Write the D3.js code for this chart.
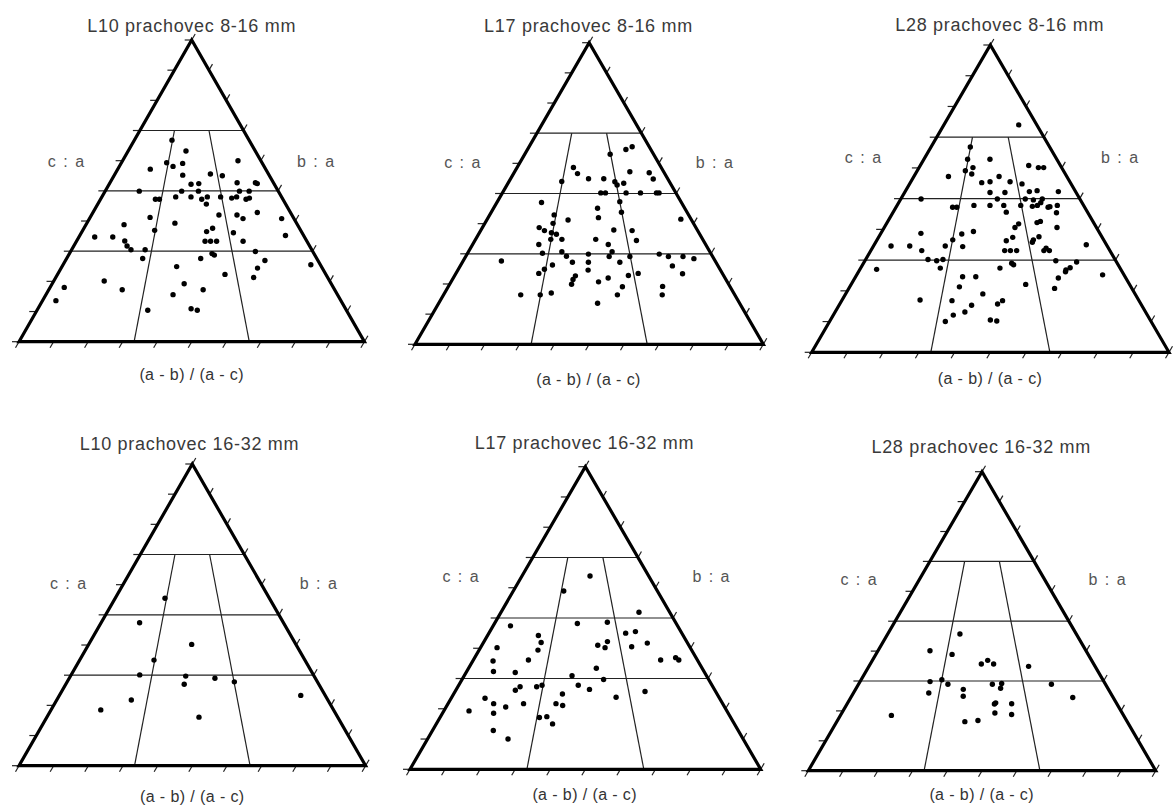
<!DOCTYPE html>
<html>
<head>
<meta charset="utf-8">
<script src="https://cdn.jsdelivr.net/npm/d3@7"></script>
<style>
  body { margin: 0; background: #fff; }
  svg text { font-family: "Liberation Sans", Arial, sans-serif; font-weight: 400; }
</style>
</head>
<body>
<svg id="chart" width="1174" height="810"></svg>
<script>
// Sneed & Folk form diagrams. each point is [(a-b)/(a-c), c/a]
const L10_8_16 = [[0.328,0.668],[0.455,0.632],[0.835,0.600],[0.322,0.593],[0.371,0.581],[0.436,0.591],[0.220,0.572],[0.442,0.552],[0.622,0.556],[0.697,0.550],[0.778,0.527],[0.890,0.527],[0.899,0.524],[0.496,0.522],[0.543,0.524],[0.197,0.499],[0.442,0.499],[0.539,0.499],[0.776,0.499],[0.832,0.499],[0.301,0.472],[0.323,0.472],[0.411,0.480],[0.496,0.480],[0.555,0.472],[0.587,0.480],[0.578,0.456],[0.661,0.480],[0.721,0.476],[0.750,0.480],[0.798,0.472],[0.819,0.476],[0.636,0.420],[0.726,0.420],[0.751,0.408],[0.832,0.428],[0.940,0.408],[0.295,0.412],[0.180,0.388],[0.420,0.393],[0.597,0.376],[0.568,0.365],[0.330,0.369],[0.689,0.361],[0.919,0.352],[0.070,0.347],[0.150,0.347],[0.209,0.334],[0.226,0.317],[0.247,0.305],[0.558,0.333],[0.582,0.333],[0.608,0.333],[0.723,0.333],[0.306,0.305],[0.763,0.299],[0.583,0.292],[0.592,0.287],[0.304,0.276],[0.536,0.276],[0.790,0.269],[0.963,0.255],[0.442,0.249],[0.752,0.244],[0.624,0.223],[0.728,0.213],[0.183,0.201],[0.050,0.180],[0.473,0.192],[0.257,0.172],[0.540,0.172],[0.436,0.156],[0.045,0.136],[0.358,0.104],[0.498,0.109],[0.518,0.104]];

const L17_8_16 = [[0.858,0.655],[0.798,0.646],[0.663,0.630],[0.391,0.586],[0.423,0.566],[0.496,0.549],[0.593,0.549],[0.773,0.572],[0.900,0.569],[0.907,0.548],[0.329,0.540],[0.660,0.539],[0.670,0.528],[0.713,0.534],[0.567,0.502],[0.594,0.502],[0.713,0.502],[0.796,0.502],[0.888,0.502],[0.903,0.502],[0.242,0.470],[0.667,0.473],[0.544,0.451],[0.665,0.438],[0.324,0.429],[0.546,0.420],[0.397,0.412],[0.327,0.401],[0.950,0.415],[0.266,0.387],[0.294,0.377],[0.328,0.370],[0.352,0.365],[0.614,0.379],[0.698,0.377],[0.331,0.348],[0.380,0.348],[0.529,0.348],[0.707,0.344],[0.284,0.331],[0.582,0.331],[0.308,0.302],[0.387,0.307],[0.408,0.292],[0.497,0.299],[0.595,0.307],[0.581,0.291],[0.665,0.291],[0.787,0.299],[0.821,0.291],[0.880,0.291],[0.920,0.284],[0.152,0.276],[0.434,0.272],[0.497,0.272],[0.621,0.272],[0.357,0.263],[0.329,0.249],[0.496,0.246],[0.823,0.260],[0.311,0.235],[0.646,0.228],[0.684,0.235],[0.850,0.234],[0.449,0.227],[0.441,0.215],[0.437,0.199],[0.570,0.220],[0.534,0.207],[0.761,0.192],[0.618,0.191],[0.265,0.164],[0.332,0.164],[0.369,0.170],[0.597,0.164],[0.751,0.164],[0.528,0.136]];

const L28_8_16 = [[0.805,0.740],[0.331,0.668],[0.329,0.628],[0.497,0.628],[0.329,0.591],[0.378,0.601],[0.376,0.580],[0.774,0.608],[0.837,0.601],[0.874,0.601],[0.226,0.572],[0.557,0.572],[0.446,0.552],[0.498,0.555],[0.624,0.555],[0.696,0.548],[0.498,0.520],[0.585,0.520],[0.729,0.523],[0.776,0.526],[0.899,0.523],[0.113,0.499],[0.539,0.499],[0.695,0.499],[0.739,0.496],[0.790,0.499],[0.775,0.487],[0.300,0.472],[0.322,0.472],[0.412,0.478],[0.498,0.478],[0.572,0.478],[0.663,0.478],[0.724,0.475],[0.752,0.478],[0.806,0.472],[0.817,0.474],[0.859,0.478],[0.582,0.456],[0.839,0.454],[0.744,0.426],[0.726,0.422],[0.636,0.418],[0.616,0.406],[0.814,0.406],[0.183,0.387],[0.422,0.393],[0.370,0.385],[0.600,0.374],[0.718,0.376],[0.334,0.366],[0.570,0.363],[0.690,0.366],[0.683,0.358],[0.075,0.346],[0.155,0.346],[0.307,0.346],[0.382,0.344],[0.913,0.350],[0.213,0.331],[0.560,0.331],[0.584,0.331],[0.610,0.331],[0.736,0.339],[0.724,0.331],[0.747,0.331],[0.250,0.302],[0.286,0.298],[0.310,0.302],[0.761,0.298],[0.842,0.294],[0.584,0.290],[0.591,0.285],[0.064,0.270],[0.307,0.274],[0.537,0.274],[0.808,0.275],[0.789,0.268],[0.785,0.262],[0.397,0.246],[0.446,0.246],[0.751,0.242],[0.920,0.252],[0.627,0.221],[0.390,0.213],[0.727,0.208],[0.474,0.190],[0.263,0.170],[0.371,0.168],[0.541,0.168],[0.524,0.157],[0.438,0.153],[0.418,0.131],[0.382,0.121],[0.500,0.105],[0.520,0.102],[0.360,0.100]];

const L10_16_32 = [[0.323,0.555],[0.211,0.474],[0.497,0.402],[0.330,0.350],[0.283,0.301],[0.473,0.297],[0.592,0.290],[0.668,0.278],[0.468,0.270],[0.275,0.218],[0.908,0.233],[0.176,0.185],[0.523,0.161]];

const L17_16_32 = [[0.537,0.639],[0.350,0.589],[0.818,0.519],[0.094,0.474],[0.456,0.482],[0.622,0.486],[0.260,0.442],[0.283,0.419],[0.709,0.450],[0.762,0.455],[0.079,0.402],[0.277,0.394],[0.560,0.410],[0.594,0.402],[0.609,0.422],[0.722,0.405],[0.803,0.417],[0.090,0.358],[0.246,0.361],[0.836,0.361],[0.908,0.369],[0.917,0.361],[0.113,0.323],[0.206,0.320],[0.547,0.334],[0.445,0.309],[0.574,0.297],[0.244,0.273],[0.230,0.261],[0.309,0.273],[0.329,0.278],[0.472,0.278],[0.516,0.264],[0.413,0.249],[0.729,0.257],[0.615,0.238],[0.126,0.235],[0.166,0.217],[0.214,0.206],[0.275,0.217],[0.393,0.217],[0.418,0.211],[0.089,0.193],[0.179,0.185],[0.342,0.171],[0.367,0.174],[0.390,0.150],[0.199,0.128],[0.255,0.100]];

const L28_16_32 = [[0.383,0.457],[0.250,0.401],[0.359,0.389],[0.526,0.369],[0.497,0.357],[0.552,0.357],[0.706,0.349],[0.287,0.298],[0.334,0.304],[0.362,0.289],[0.542,0.289],[0.580,0.292],[0.574,0.276],[0.781,0.289],[0.293,0.260],[0.426,0.272],[0.428,0.249],[0.846,0.245],[0.551,0.227],[0.546,0.223],[0.610,0.224],[0.546,0.193],[0.605,0.188],[0.180,0.185],[0.441,0.164],[0.486,0.168]];

const titles = ["L10 prachovec 8-16 mm", "L17 prachovec 8-16 mm", "L28 prachovec 8-16 mm",
                "L10 prachovec 16-32 mm", "L17 prachovec 16-32 mm", "L28 prachovec 16-32 mm"];
const series = [L10_8_16, L17_8_16, L28_8_16, L10_16_32, L17_16_32, L28_16_32];

const caLines = [0.3, 0.5, 0.7];        // c/a class boundaries
const abLines = [1/3, 2/3];             // (a-b)/(a-c) class boundaries
const tickVals = d3.range(0, 1.0001, 0.1);

// where each triangle sits on the page
const boxes = [
  {left: 19,    right: 364.4,  base: 341.7, apex: 40,    tx: 191.7, ty: 32,    caX: 66.7,  baX: 316.3,  lblY: 166.7, axX: 191.7, axY: 380},
  {left: 415,   right: 763.3,  base: 344.3, apex: 42.7,  tx: 588.5, ty: 32,    caX: 463,   baX: 715,    lblY: 168.3, axX: 588.5, axY: 385},
  {left: 811.7, right: 1169,   base: 352.3, apex: 45,    tx: 999.7, ty: 30.7,  caX: 863.7, baX: 1120.3, lblY: 163.3, axX: 990,   axY: 383.5},
  {left: 19,    right: 365.6,  base: 765.7, apex: 464,   tx: 189.5, ty: 450,   caX: 68.8,  baX: 319,    lblY: 589,   axX: 192.3, axY: 802},
  {left: 410,   right: 760.7,  base: 769.3, apex: 466.7, tx: 584.5, ty: 449.3, caX: 461.3, baX: 711.7,  lblY: 582.3, axX: 584.7, axY: 800},
  {left: 808.3, right: 1155.7, base: 770.7, apex: 471.7, tx: 981.2, ty: 453.3, caX: 859.3, baX: 1107.8, lblY: 585,   axX: 981.7, axY: 800}
];

const svg = d3.select("#chart");

boxes.forEach((b, i) => {
  const cx = (b.left + b.right) / 2;
  const x = d3.scaleLinear().domain([0, 1]).range([b.left, b.right]);
  const y = d3.scaleLinear().domain([0, 1]).range([b.base, b.apex]);
  // horizontal position shrinks toward the apex as c/a grows
  const px = (ab, ca) => cx + (x(ab) - cx) * (1 - ca);

  const g = svg.append("g");

  // class boundaries
  g.selectAll(".h").data(caLines).join("line")
    .attr("x1", d => px(0, d)).attr("x2", d => px(1, d))
    .attr("y1", d => y(d)).attr("y2", d => y(d))
    .attr("stroke", "#222").attr("stroke-width", 1.2);
  g.selectAll(".v").data(abLines).join("line")
    .attr("x1", d => px(d, 0)).attr("y1", y(0))
    .attr("x2", d => px(d, 0.7)).attr("y2", y(0.7))
    .attr("stroke", "#222").attr("stroke-width", 1.2);

  // ticks on the three sides
  const tk = g.append("g").attr("stroke", "#222").attr("stroke-width", 1.2);
  tk.selectAll(".tl").data(tickVals).join("line")
    .attr("x1", d => px(0, d)).attr("y1", d => y(d))
    .attr("x2", d => px(0, d) - 7).attr("y2", d => y(d));
  tk.selectAll(".tr").data(tickVals).join("line")
    .attr("x1", d => px(1, d)).attr("y1", d => y(d))
    .attr("x2", d => px(1, d) + 3.5).attr("y2", d => y(d) - 6);
  tk.selectAll(".tb").data(tickVals).join("line")
    .attr("x1", d => x(d)).attr("y1", b.base)
    .attr("x2", d => x(d) - 3.5).attr("y2", b.base + 6);

  // outline
  const tri = d3.path();
  tri.moveTo(x(0), y(0));
  tri.lineTo(px(0.5, 1), y(1));
  tri.lineTo(x(1), y(0));
  tri.closePath();
  g.append("path").attr("d", tri.toString())
    .attr("fill", "none").attr("stroke", "#000")
    .attr("stroke-width", 3.2).attr("stroke-linejoin", "miter");

  // points
  g.selectAll("circle").data(series[i]).join("circle")
    .attr("cx", d => px(d[0], d[1]))
    .attr("cy", d => y(d[1]))
    .attr("r", 2.7)
    .attr("fill", "#000");

  // texts
  g.append("text").attr("x", b.tx).attr("y", b.ty)
    .attr("text-anchor", "middle").attr("font-size", 18)
    .attr("letter-spacing", 0.7).attr("fill", "#3a3a3a")
    .text(titles[i]);
  g.append("text").attr("x", b.caX).attr("y", b.lblY)
    .attr("text-anchor", "middle").attr("font-size", 16)
    .attr("letter-spacing", 1.5).attr("fill", "#555")
    .text("c : a");
  g.append("text").attr("x", b.baX).attr("y", b.lblY)
    .attr("text-anchor", "middle").attr("font-size", 16)
    .attr("letter-spacing", 1.5).attr("fill", "#555")
    .text("b : a");
  g.append("text").attr("x", b.axX).attr("y", b.axY)
    .attr("text-anchor", "middle").attr("font-size", 16)
    .attr("letter-spacing", 0.4).attr("fill", "#333")
    .text("(a - b) / (a - c)");
});
</script>
</body>
</html>
